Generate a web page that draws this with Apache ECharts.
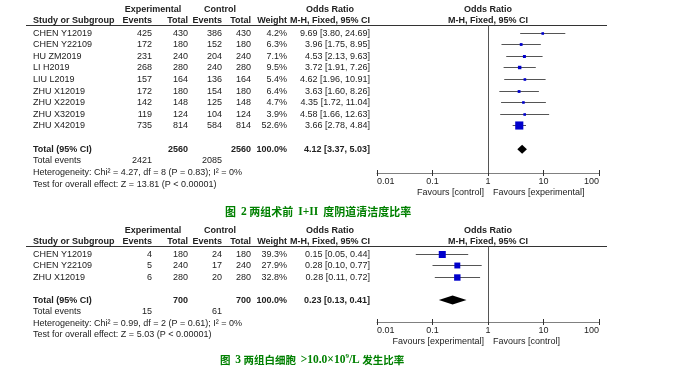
<!DOCTYPE html>
<html>
<head>
<meta charset="utf-8">
<script src="https://cdn.jsdelivr.net/npm/echarts/dist/echarts.min.js"></script>
<style>html,body{margin:0;padding:0;background:#fff}#c{width:691px;height:370px}</style>
</head>
<body>
<div id="c"></div>
<script>
// ---------- Figure 2 data ----------
const studies1 = ['CHEN Y12019','CHEN Y22109','HU ZM2019','LI H2019','LIU L2019','ZHU X12019','ZHU X22019','ZHU X32019','ZHU X42019'];
const expEvents1 = [425,172,231,268,157,172,142,119,735];
const expTotal1 = [430,180,240,280,164,180,148,124,814];
const ctrlEvents1 = [386,152,204,240,136,154,125,104,584];
const ctrlTotal1 = [430,180,240,280,164,180,148,124,814];
const weight1 = [4.2,6.3,7.1,9.5,5.4,6.4,4.7,3.9,52.6];
const or1 = [9.69,3.96,4.53,3.72,4.62,3.63,4.35,4.58,3.66];
const lo1 = [3.80,1.75,2.13,1.91,1.96,1.60,1.72,1.66,2.78];
const hi1 = [24.69,8.95,9.63,7.26,10.91,8.26,11.04,12.63,4.84];
const totals1 = [2560,2560,100.0];          // exp total, ctrl total, weight
const totalEvents1 = [2421,2085];
const totalOR1 = [4.12,3.37,5.03];           // OR, lower, upper
const hetero1 = 'Heterogeneity: Chi\u00b2 = 4.27, df = 8 (P = 0.83); I\u00b2 = 0%';
const effect1 = 'Test for overall effect: Z = 13.81 (P < 0.00001)';
const favours1 = ['Favours [control]','Favours [experimental]'];

// ---------- Figure 3 data ----------
const studies2 = ['CHEN Y12019','CHEN Y22109','ZHU X12019'];
const expEvents2 = [4,5,6];
const expTotal2 = [180,240,280];
const ctrlEvents2 = [24,17,20];
const ctrlTotal2 = [180,240,280];
const weight2 = [39.3,27.9,32.8];
const or2 = [0.15,0.28,0.28];
const lo2 = [0.05,0.10,0.11];
const hi2 = [0.44,0.77,0.72];
const totals2 = [700,700,100.0];
const totalEvents2 = [15,61];
const totalOR2 = [0.23,0.13,0.41];
const hetero2 = 'Heterogeneity: Chi\u00b2 = 0.99, df = 2 (P = 0.61); I\u00b2 = 0%';
const effect2 = 'Test for overall effect: Z = 5.03 (P < 0.00001)';
const favours2 = ['Favours [experimental]','Favours [control]'];

// ---------- shared labels ----------
const tickValues = [0.01,0.1,1,10,100];
const tickLabels = ['0.01','0.1','1','10','100'];
const headerTop = ['Experimental','Control','Odds Ratio','Odds Ratio'];
const headerSub = ['Study or Subgroup','Events','Total','Events','Total','Weight','M-H, Fixed, 95% CI','M-H, Fixed, 95% CI'];
const totalLabels = ['Total (95% CI)','Total events'];

// ---------- styling / layout ----------
const FONT = "'Liberation Sans', Arial, sans-serif";
const TXT = '#222';
const COLS = {
  study:[33,'left'], ee:[152,'right'], et:[188,'right'], ce:[222,'right'],
  ct:[251,'right'], w:[287,'right'], ci:[370,'right'],
  exp:[153,'center'], ctl:[220,'center'], or:[330,'center']
};

const panels = [
  {grid:{left:377, top:25, width:222, height:148}, yMin:-0.7, yMax:12.05,
   studies:studies1, ee:expEvents1, et:expTotal1, ce:ctrlEvents1, ct:ctrlTotal1,
   w:weight1, or:or1, lo:lo1, hi:hi1, totals:totals1, tev:totalEvents1, tor:totalOR1,
   het:hetero1, eff:effect1, fav:favours1},
  {grid:{left:377, top:246, width:222, height:76}, yMin:-0.7, yMax:5.9,
   studies:studies2, ee:expEvents2, et:expTotal2, ce:ctrlEvents2, ct:ctrlTotal2,
   w:weight2, or:or2, lo:lo2, hi:hi2, totals:totals2, tev:totalEvents2, tor:totalOR2,
   het:hetero2, eff:effect2, fav:favours2}
];

function ciText(o,l,h){ return o.toFixed(2)+' ['+l.toFixed(2)+', '+h.toFixed(2)+']'; }

function buildCells(P){
  const c = [];
  const n = P.studies.length;
  const H1 = -2.05, H2 = -1.05;
  c.push({row:H1,col:'exp',t:headerTop[0],b:1},{row:H1,col:'ctl',t:headerTop[1],b:1},
         {row:H1,col:'or',t:headerTop[2],b:1},{row:H1,col:'forest',t:headerTop[3],b:1});
  const subCols = ['study','ee','et','ce','ct','w','ci','forest'];
  headerSub.forEach((t,i)=>c.push({row:H2,col:subCols[i],t:t,b:1}));
  P.studies.forEach((s,i)=>{
    c.push({row:i,col:'study',t:s},{row:i,col:'ee',t:String(P.ee[i])},{row:i,col:'et',t:String(P.et[i])},
           {row:i,col:'ce',t:String(P.ce[i])},{row:i,col:'ct',t:String(P.ct[i])},
           {row:i,col:'w',t:P.w[i].toFixed(1)+'%'},{row:i,col:'ci',t:ciText(P.or[i],P.lo[i],P.hi[i])});
  });
  const r = n+1;
  c.push({row:r,col:'study',t:totalLabels[0],b:1},{row:r,col:'et',t:String(P.totals[0]),b:1},
         {row:r,col:'ct',t:String(P.totals[1]),b:1},{row:r,col:'w',t:P.totals[2].toFixed(1)+'%',b:1},
         {row:r,col:'ci',t:ciText(P.tor[0],P.tor[1],P.tor[2]),b:1});
  c.push({row:r+1,col:'study',t:totalLabels[1]},{row:r+1,col:'ee',t:String(P.tev[0])},{row:r+1,col:'ce',t:String(P.tev[1])});
  c.push({row:r+2,col:'study',t:P.het},{row:r+3,col:'study',t:P.eff});
  c.push({row:P.yMax,col:'favL',t:P.fav[0]},{row:P.yMax,col:'favR',t:P.fav[1]});
  return c;
}

function tickFmt(v){
  let best = 0;
  tickValues.forEach((tv,i)=>{
    if (Math.abs(Math.log10(tv)-Math.log10(v)) < Math.abs(Math.log10(tickValues[best])-Math.log10(v))) best = i;
  });
  return tickLabels[best];
}

const series = [];
const grids = [], xAxes = [], yAxes = [];
panels.forEach((P,pi)=>{
  grids.push(P.grid);
  const axBase = {type:'log', logBase:10, min:0.01, max:100, gridIndex:pi, position:'bottom',
                  splitLine:{show:false}, minorTick:{show:false}};
  xAxes.push(Object.assign({}, axBase, {
    axisLine:{show:true, onZero:false, lineStyle:{color:'#808080', width:1}},
    axisTick:{show:true, inside:false, length:3, lineStyle:{color:'#333'}},
    axisLabel:{show:true, fontSize:9, fontFamily:FONT, color:TXT, margin:4,
               alignMinLabel:'left', alignMaxLabel:'right', formatter:tickFmt}
  }));
  xAxes.push(Object.assign({}, axBase, {
    axisLine:{show:false, onZero:false}, axisLabel:{show:false},
    axisTick:{show:true, inside:true, length:3, lineStyle:{color:'#333'}}
  }));
  yAxes.push({type:'value', gridIndex:pi, inverse:true, min:P.yMin, max:P.yMax, show:false});
  const xi = pi*2, yi = pi;

  // reference lines: header rule and line of no effect
  series.push({
    type:'custom', xAxisIndex:xi, yAxisIndex:yi, clip:false, silent:true,
    data:[[1, P.yMin, P.yMax]], encode:{x:0, y:1},
    renderItem(params, api){
      const top = api.coord([1, api.value(1)]);
      const bot = api.coord([1, api.value(2)]);
      const hy = Math.floor(top[1]) + 0.5;
      const vx = Math.floor(top[0]) + 0.5;
      return {type:'group', children:[
        {type:'line', shape:{x1:26, y1:hy, x2:607, y2:hy}, style:{stroke:'#333', lineWidth:1}},
        {type:'line', shape:{x1:vx, y1:hy, x2:vx, y2:bot[1]}, style:{stroke:'#555', lineWidth:1}}
      ]};
    }
  });

  // study estimates: whiskers + weighted squares
  series.push({
    type:'custom', xAxisIndex:xi, yAxisIndex:yi, clip:false,
    data:P.or.map((v,i)=>[v, P.lo[i], P.hi[i], i, P.w[i]]),
    encode:{x:[0,1,2], y:3},
    renderItem(params, api){
      const row = api.value(3);
      const c = api.coord([api.value(0), row]);
      const l = api.coord([api.value(1), row]);
      const h = api.coord([api.value(2), row]);
      const y = Math.floor(c[1]) + 0.5;
      const s = Math.max(2.6, 1.12 * Math.sqrt(api.value(4)));
      return {type:'group', children:[
        {type:'line', shape:{x1:l[0], y1:y, x2:h[0], y2:y}, style:{stroke:'#555', lineWidth:1}},
        {type:'rect', shape:{x:c[0]-s/2, y:y-s/2, width:s, height:s}, style:{fill:'#0000CC'}}
      ]};
    }
  });

  // pooled estimate diamond
  series.push({
    type:'custom', xAxisIndex:xi, yAxisIndex:yi, clip:false,
    data:[[P.tor[0], P.tor[1], P.tor[2], P.studies.length+1]],
    encode:{x:[0,1,2], y:3},
    renderItem(params, api){
      const row = api.value(3);
      const c = api.coord([api.value(0), row]);
      const l = api.coord([api.value(1), row]);
      const h = api.coord([api.value(2), row]);
      const hh = 4.5;
      return {type:'polygon', shape:{points:[[l[0],c[1]],[c[0],c[1]-hh],[h[0],c[1]],[c[0],c[1]+hh]]},
              style:{fill:'#000'}};
    }
  });

  // table text
  const cells = buildCells(P);
  series.push({
    type:'custom', xAxisIndex:xi, yAxisIndex:yi, clip:false, silent:true,
    data:cells.map(c=>[1, c.row]), encode:{x:0, y:1},
    renderItem(params, api){
      const cell = cells[params.dataIndex];
      const one = api.coord([1, api.value(1)]);
      let x, align, y = one[1];
      if (cell.col === 'forest'){ x = one[0]; align = 'center'; }
      else if (cell.col === 'favL'){ x = one[0]-4; align = 'right'; y = one[1]+20; }
      else if (cell.col === 'favR'){ x = one[0]+5; align = 'left'; y = one[1]+20; }
      else { x = COLS[cell.col][0]; align = COLS[cell.col][1]; }
      return {type:'text', x:x, y:y, style:{
        text:cell.t, fill:TXT, font:(cell.b?'bold ':'')+'9px '+FONT,
        align:align, verticalAlign:'middle', textAlign:align, textVerticalAlign:'middle'}};
    }
  });
});

function capStyles(cjkSize){
  return {
    c:{fontFamily:"'Noto Sans CJK SC', sans-serif", fontSize:cjkSize, color:'#008000', lineHeight:14},
    b:{fontFamily:"'Liberation Serif', serif", fontWeight:'bold', fontSize:11.5, color:'#008000', lineHeight:14},
    s:{fontFamily:"'Liberation Serif', serif", fontWeight:'bold', fontSize:7, color:'#008000', verticalAlign:'top', lineHeight:14}
  };
}
const caption2 = '{c|图  }{b|2}{c| 两组术前  }{b|I+II}{c|  度阴道清洁度比率}';
const caption3 = '{c|图  }{b|3}{c| 两组白细胞  }{b|>10.0×10}{s|9}{b|/L}{c| 发生比率}';

const chart = echarts.init(document.getElementById('c'), null, {renderer:'canvas'});
chart.setOption({
  animation:false,
  backgroundColor:'#fff',
  title:[
    {text:caption2, left:225, top:205, padding:0, textStyle:{rich:capStyles(11)}},
    {text:caption3, left:220, top:353, padding:0, textStyle:{rich:capStyles(10.5)}}
  ],
  grid:grids, xAxis:xAxes, yAxis:yAxes, series:series
});
</script>
</body>
</html>
